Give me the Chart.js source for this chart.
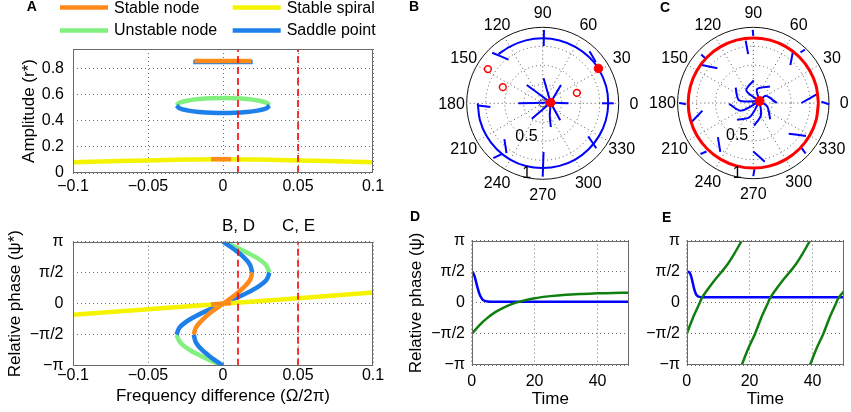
<!DOCTYPE html>
<html><head><meta charset="utf-8">
<script src="https://cdn.jsdelivr.net/npm/chart.js@4.4.1/dist/chart.umd.min.js"></script>
<style>
html,body{margin:0;padding:0;background:#fff}
body{width:851px;height:412px;position:relative;overflow:hidden}
.pane{position:absolute}
.pane canvas{display:block}
</style></head><body>
<div class="pane" style="left:0;top:0;width:400px;height:200px"><canvas id="cA1" width="400" height="200"></canvas></div>
<div class="pane" style="left:0;top:200px;width:400px;height:212px"><canvas id="cA2" width="400" height="212"></canvas></div>
<div class="pane" style="left:400px;top:0;width:240px;height:210px"><canvas id="cB" width="240" height="210"></canvas></div>
<div class="pane" style="left:640px;top:0;width:211px;height:210px"><canvas id="cC" width="211" height="210"></canvas></div>
<div class="pane" style="left:400px;top:210px;width:240px;height:202px"><canvas id="cD" width="240" height="202"></canvas></div>
<div class="pane" style="left:640px;top:210px;width:211px;height:202px"><canvas id="cE" width="211" height="202"></canvas></div>
<script>
// ================= DATA =================
const legendLabels = ['Stable node', 'Stable spiral', 'Unstable node', 'Saddle point'];
const freqTicks = [-0.1, -0.05, 0, 0.05, 0.1];
const ampTicks = [0, 0.2, 0.4, 0.6, 0.8];
const phaseTicks = [-Math.PI, -Math.PI / 2, 0, Math.PI / 2, Math.PI];
const phaseTickLabels = ['\u2212\u03c0', '\u2212\u03c0/2', '0', '\u03c0/2', '\u03c0'];
const timeTicks = [0, 20, 40];
const markerFreqs = [0.01, 0.05];
const markerLabels = ['B, D', 'C, E'];

// Panel A (top): amplitude r* vs frequency difference
const spiralAmpFreq = [-0.1, -0.075, -0.05, -0.025, 0, 0.025, 0.05, 0.075, 0.1];
const spiralAmp     = [0.082, 0.09, 0.096, 0.103, 0.106, 0.103, 0.096, 0.09, 0.082];
const nodeLowFreq   = [-0.008, 0.0053];
const nodeLowAmp    = [0.106, 0.106];
const nodeHighFreq  = [-0.019, 0, 0.019];
const nodeHighAmp   = [0.859, 0.859, 0.859];
const saddleHighFreq = [-0.0198, 0, 0.0198];
const saddleHighAmp  = [0.851, 0.851, 0.851];
const ellipseFreq    = [-0.031, -0.029, -0.024, -0.016, 0, 0.016, 0.024, 0.029, 0.031];
const unstableAmp    = [0.517, 0.538, 0.554, 0.567, 0.575, 0.567, 0.554, 0.538, 0.517];
const saddleLowAmp   = [0.517, 0.496, 0.48, 0.467, 0.459, 0.467, 0.48, 0.496, 0.517];

// Panel A (bottom): relative phase psi* vs frequency difference
const spiralPhaseFreq = [-0.1, -0.05, 0, 0.05, 0.1];
const spiralPhase     = [-0.56, -0.28, 0, 0.28, 0.57];
const nodeLowPhaseFreq = [-0.008, 0.0053];
const nodeLowPhase     = [-0.045, 0.03];
const sPhase        = [-1.571, -1.2, -0.8, -0.4, 0, 0.4, 0.8, 1.2, 1.571];
const nodeSFreq     = [-0.0195, -0.018, -0.0135, -0.0074, 0, 0.0074, 0.0135, 0.018, 0.0195];
const saddleSFreq   = [-0.031, -0.0289, -0.0222, -0.0121, 0, 0.0121, 0.0222, 0.0289, 0.031];
const upperPhase    = [1.571, 1.97, 2.37, 2.77, 3.1416];
const lowerPhase    = [-1.571, -1.97, -2.37, -2.77, -3.1416];
const saddleUpFreq  = [0.0195, 0.018, 0.0136, 0.0071, 0];
const saddleDnFreq  = [-0.0195, -0.018, -0.0136, -0.0071, 0];
const unstUpFreq    = [0.031, 0.0285, 0.0216, 0.0112, 0];
const unstDnFreq    = [-0.031, -0.0285, -0.0216, -0.0112, 0];

// Panel B: phase plane at frequency difference 0.01, points as [angle deg, radius]
const bArc = [[180,.855],[195,.855],[210,.855],[225,.855],[240,.855],[255,.855],[270,.852],[285,.852],[300,.855],[315,.855],[330,.857],[345,.86],[360,.862],[375,.864],[392,.865],[405,.862],[420,.858],[435,.856],[450,.855],[465,.857],[480,.862],[492,.87]];
const bOuter = [
  [[89,0.965],[89,0.755]],
  [[48,0.92],[38,0.885]],
  [[0,0.935],[0,0.78]],
  [[320,0.92],[324,0.74]],
  [[270,0.965],[271,0.64]],
  [[223,0.69],[234,0.81]],
  [[228,0.97],[231,0.86]],
  [[182,0.85],[184,0.69]],
  [[135,0.94],[128,0.73]]
];
const bInner = [
  [[0,0.34],[5,0.105]],
  [[45,0.34],[5,0.105]],
  [[88,0.33],[5,0.105]],
  [[131,0.32],[5,0.105]],
  [[180,0.32],[5,0.105]],
  [[235,0.25],[5,0.105]],
  [[289,0.33],[298,0.2],[5,0.105]],
  [[316,0.32],[5,0.105]]
];
const bStable = [[32,0.865],[5,0.105]];
const bUnstable = [[148,0.85],[158,0.566],[17,0.47]];
const bOrigin = [[0,0]];

// Panel C: phase plane at frequency difference 0.05
const cCycle = [[0,.86],[15,.86],[30,.86],[45,.86],[60,.86],[75,.86],[90,.86],[105,.86],[120,.86],[135,.86],[150,.86],[165,.86],[180,.86],[195,.86],[210,.86],[225,.86],[240,.86],[255,.86],[270,.86],[285,.86],[300,.86],[315,.86],[330,.86],[345,.86],[360,.86]];
const cOuter = [
  [[90.5,0.965],[90,0.886]],
  [[46,0.98],[47,0.915]],
  [[359,1.0],[1,0.9]],
  [[316,0.96],[317,0.875]],
  [[270,0.965],[271,0.875]],
  [[224,0.97],[226,0.89]],
  [[180,0.98],[181,0.89]],
  [[137,0.94],[137,0.855]]
];
const cInnerOut = [
  [[0,0.636],[8,0.85]],
  [[45.6,0.7],[52,0.846]],
  [[96,0.65],[97,0.83]],
  [[136,0.66],[144,0.86]],
  [[188.5,0.68],[197,0.85]],
  [[224,0.65],[236,0.78]],
  [[270,0.64],[281,0.79]],
  [[319,0.62],[328,0.82]]
];
const cSpirals = [
  [[0,0.31],[30,0.19],[17,0.087]],
  [[45,0.31],[75,0.19],[17,0.087]],
  [[89,0.30],[119,0.19],[17,0.087]],
  [[139,0.31],[169,0.19],[17,0.087]],
  [[182,0.32],[212,0.19],[17,0.087]],
  [[226,0.31],[256,0.19],[17,0.087]],
  [[272,0.30],[302,0.19],[17,0.087]],
  [[316,0.31],[346,0.19],[17,0.087]]
];
const cStable = [[17,0.087]];

// Panel D: time courses at frequency difference 0.01
const dBlueTime  = [0, 0.4, 0.9, 1.4, 1.9, 2.4, 2.9, 3.4, 4, 5, 6, 8, 50];
const dBluePhase = [1.57, 1.54, 1.35, 1.05, 0.74, 0.48, 0.3, 0.18, 0.11, 0.07, 0.06, 0.055, 0.05];
const dGreenTime  = [0, 2.5, 5, 7.5, 10, 12.5, 15, 20, 25, 30, 35, 40, 45, 50];
const dGreenPhase = [-1.571, -1.12, -0.76, -0.47, -0.25, -0.08, 0.05, 0.23, 0.34, 0.41, 0.45, 0.48, 0.5, 0.51];

// Panel E: time courses at frequency difference 0.05
const eBlueTime  = [0, 0.8, 1.3, 1.8, 2.3, 2.8, 3.3, 4, 5, 50];
const eBluePhase = [1.57, 1.55, 1.4, 1.1, 0.75, 0.5, 0.36, 0.3, 0.285, 0.28];
const eGreen1Time  = [0, 2, 4, 4.8, 7, 9, 11, 13, 15, 17.5];
const eGreen1Phase = [-1.571, -0.75, -0.05, 0.24, 0.75, 1.17, 1.55, 1.95, 2.45, 3.1416];
const eGreen2Time  = [17.5, 19.6, 21.7, 23.7, 25.7, 26.5, 28.7, 30.7, 32.7, 34.7, 36.7, 39.2];
const eGreen2Phase = [-3.1416, -2.3, -1.571, -0.75, -0.05, 0.24, 0.75, 1.17, 1.55, 1.95, 2.45, 3.1416];
const eGreen3Time  = [39.2, 41.3, 43.4, 45.4, 47.4, 48.2, 50];
const eGreen3Phase = [-3.1416, -2.3, -1.571, -0.75, -0.05, 0.24, 0.6];

// polar grid
const polarRings = [0.25, 0.5, 0.75];
const angleLabels = [0, 30, 60, 90, 120, 150, 180, 210, 240, 270, 300, 330];

// ================= STYLE =================
const FONT = "'Liberation Sans', Arial, Helvetica, sans-serif";
const C_NODE = '#ff8a1c', C_SPIRAL = '#f4f400', C_UNST = '#82f07e', C_SADDLE = '#1d7fea';
const legendColors = [C_NODE, C_SPIRAL, C_UNST, C_SADDLE];
const C_RED = '#ff0000', C_BLUE = '#0000ff', C_GREEN = '#107f10';

Chart.defaults.font.family = FONT;
Chart.defaults.font.size = 16;
Chart.defaults.color = '#000';
Chart.defaults.animation = false;
Chart.defaults.events = [];
Chart.defaults.plugins.legend.display = false;
Chart.defaults.plugins.tooltip.enabled = false;

const pts = (xs, ys) => xs.map((x, i) => ({x: x, y: ys[i]}));
const polarPts = arr => arr.map(([a, r]) => ({x: r * Math.cos(a * Math.PI / 180), y: r * Math.sin(a * Math.PI / 180)}));
const line = (data, color, width, tension) => ({data, showLine: true, borderColor: color, backgroundColor: color,
  borderWidth: width, pointRadius: 0, fill: false, tension: tension === undefined ? 0.35 : tension, borderCapStyle: 'butt'});
const dashed = (x, y0, y1) => ({data: [{x: x, y: y0}, {x: x, y: y1}], showLine: true, borderColor: C_RED,
  borderWidth: 1.6, borderDash: [7, 4], pointRadius: 0, tension: 0});
const ordered = list => list.map((d, i) => Object.assign(d, {order: list.length - i}));
const fmtNum = v => v === 0 ? '0' : (v < 0 ? '\u2212' : '') + String(Math.abs(v));

function xAxis(o) {
  return {type: 'linear', position: 'bottom', min: o.min, max: o.max,
    afterBuildTicks: s => { s.ticks = o.ticks.map(v => ({value: v})); },
    ticks: {callback: o.fmt, padding: o.pad, maxRotation: 0, autoSkip: false, font: {size: 16}},
    grid: {color: '#6f6f6f', lineWidth: 1, drawTicks: false},
    border: {display: false, dash: [1, 3]},
    title: {display: !!o.title, text: o.title || '', font: {size: 17}, padding: {top: 0, bottom: o.titlePad || 0}},
    afterFit: s => { s.height = o.h; }};
}
function yAxis(o) {
  return {type: 'linear', position: 'left', min: o.min, max: o.max,
    afterBuildTicks: s => { s.ticks = o.ticks.map(v => ({value: v})); },
    ticks: {callback: o.fmt, padding: o.pad, autoSkip: false, font: {size: 16}},
    grid: {color: '#6f6f6f', lineWidth: 1, drawTicks: false},
    border: {display: false, dash: [1, 3]},
    title: {display: !!o.title, text: o.title || '', font: {size: 17}, padding: {top: o.titlePad || 0, bottom: 0}},
    afterFit: s => { s.width = o.w; }};
}
const phaseFmt = (v, i) => phaseTickLabels[i];

const framePlugin = {id: 'frame', afterDatasetsDraw(chart) {
  const {ctx, chartArea: c} = chart;
  ctx.save(); ctx.strokeStyle = '#6a6a6a'; ctx.lineWidth = 1;
  ctx.strokeRect(Math.round(c.left) + 0.5, Math.round(c.top) + 0.5, Math.round(c.right - c.left) - 1, Math.round(c.bottom - c.top) - 1);
  ctx.restore();
}};
function textPlugin(fn) {
  return {id: 'txt', afterDraw(chart) {
    const ctx = chart.ctx; ctx.save();
    for (const it of fn(chart)) {
      ctx.font = it.font || ('16px ' + FONT); ctx.fillStyle = it.color || '#000';
      ctx.textAlign = it.align || 'center'; ctx.textBaseline = it.baseline || 'middle';
      ctx.fillText(it.text, it.x, it.y);
    }
    ctx.restore();
  }};
}
const letter = (t, x, y) => ({text: t, x: x, y: y, font: 'bold 14px ' + FONT});

const legendPlugin = {id: 'legendA', afterDraw(chart) {
  const ctx = chart.ctx; ctx.save();
  const cols = [60, 232.7], rows = [7.6, 30.5];
  legendLabels.forEach((lab, i) => {
    const x = cols[i % 2], y = rows[Math.floor(i / 2)];
    ctx.strokeStyle = legendColors[i]; ctx.lineWidth = 4.5; ctx.lineCap = 'butt';
    ctx.beginPath(); ctx.moveTo(x, y); ctx.lineTo(x + 48, y); ctx.stroke();
    ctx.fillStyle = '#000'; ctx.font = '16px ' + FONT; ctx.textAlign = 'left'; ctx.textBaseline = 'middle';
    ctx.fillText(lab, x + 54, y + 0.5);
  });
  ctx.restore();
}};

const polarGrid = {id: 'polarGrid', beforeDatasetsDraw(chart) {
  const {ctx} = chart; const sx = chart.scales.x, sy = chart.scales.y;
  const cx = sx.getPixelForValue(0), cy = sy.getPixelForValue(0);
  const R = sx.getPixelForValue(1) - cx, Ry = cy - sy.getPixelForValue(1);
  ctx.save();
  ctx.strokeStyle = '#555'; ctx.lineWidth = 1; ctx.setLineDash([1, 3]);
  for (const r of polarRings) { ctx.beginPath(); ctx.ellipse(cx, cy, R * r, Ry * r, 0, 0, Math.PI * 2); ctx.stroke(); }
  for (const a of angleLabels) {
    const t = a * Math.PI / 180; ctx.beginPath(); ctx.moveTo(cx, cy);
    ctx.lineTo(cx + R * Math.cos(t), cy - Ry * Math.sin(t)); ctx.stroke();
  }
  ctx.setLineDash([]); ctx.strokeStyle = '#111'; ctx.lineWidth = 1;
  ctx.beginPath(); ctx.ellipse(cx, cy, R, Ry, 0, 0, Math.PI * 2); ctx.stroke();
  ctx.restore();
}, afterDatasetsDraw(chart) {
  const {ctx} = chart; const sx = chart.scales.x, sy = chart.scales.y;
  const cx = sx.getPixelForValue(0), cy = sy.getPixelForValue(0);
  const R = sx.getPixelForValue(1) - cx, Ry = cy - sy.getPixelForValue(1);
  ctx.save(); ctx.fillStyle = '#000'; ctx.font = '16px ' + FONT; ctx.textAlign = 'center'; ctx.textBaseline = 'middle';
  for (const a of angleLabels) {
    const t = a * Math.PI / 180;
    ctx.fillText(String(a), cx + 1.2 * R * Math.cos(t), cy - 1.2 * Ry * Math.sin(t) + 1);
  }
  const rl = [{v: '0.5', r: 0.47, a: 243}, {v: '1', r: 0.94, a: 257}];
  for (const o of rl) {
    const t = o.a * Math.PI / 180;
    ctx.fillText(o.v, cx + o.r * R * Math.cos(t), cy - o.r * Ry * Math.sin(t) + 1);
  }
  ctx.restore();
}};

// ================= PANEL A (top) =================
new Chart(document.getElementById('cA1'), {
  type: 'scatter',
  data: {datasets: ordered([
    line(pts(spiralAmpFreq, spiralAmp), C_SPIRAL, 4.5),
    line(pts(nodeLowFreq, nodeLowAmp), C_NODE, 4.5, 0),
    line(pts(ellipseFreq, unstableAmp), C_UNST, 4.5),
    line(pts(ellipseFreq, saddleLowAmp), C_SADDLE, 4.5),
    line(pts(saddleHighFreq, saddleHighAmp), C_SADDLE, 4.5, 0),
    line(pts(nodeHighFreq, nodeHighAmp), C_NODE, 4.5, 0),
    dashed(markerFreqs[0], 0, 0.95),
    dashed(markerFreqs[1], 0, 0.95)
  ])},
  options: {responsive: false,
    layout: {padding: {left: 0, right: 27, top: 49, bottom: 0}},
    scales: {
      x: xAxis({min: -0.1, max: 0.1, ticks: freqTicks, fmt: v => fmtNum(v), pad: 4, h: 27}),
      y: yAxis({min: 0, max: 0.95, ticks: ampTicks, fmt: v => fmtNum(v), pad: 9, w: 73, title: 'Amplitude (r*)', titlePad: 19})
    }},
  plugins: [framePlugin, legendPlugin, textPlugin(() => [letter('A', 31.7, 7.6)])]
});

// ================= PANEL A (bottom) =================
new Chart(document.getElementById('cA2'), {
  type: 'scatter',
  data: {datasets: ordered([
    line(pts(unstUpFreq, upperPhase), C_UNST, 4.5),
    line(pts(unstDnFreq, lowerPhase), C_UNST, 4.5),
    line(pts(saddleUpFreq, upperPhase), C_SADDLE, 4.5),
    line(pts(saddleDnFreq, lowerPhase), C_SADDLE, 4.5),
    line(pts(saddleSFreq, sPhase), C_SADDLE, 4.5),
    line(pts(nodeSFreq, sPhase), C_NODE, 4.5),
    line(pts(spiralPhaseFreq, spiralPhase), C_SPIRAL, 4.5, 0),
    line(pts(nodeLowPhaseFreq, nodeLowPhase), C_NODE, 4.5, 0),
    dashed(markerFreqs[0], -Math.PI, Math.PI),
    dashed(markerFreqs[1], -Math.PI, Math.PI)
  ])},
  options: {responsive: false,
    layout: {padding: {left: 0, right: 27, top: 41.7, bottom: 0}},
    scales: {
      x: xAxis({min: -0.1, max: 0.1, ticks: freqTicks, fmt: v => fmtNum(v), pad: 0, h: 46.3,
        title: 'Frequency difference (\u03a9/2\u03c0)', titlePad: 5}),
      y: yAxis({min: -Math.PI, max: Math.PI, ticks: phaseTicks, fmt: phaseFmt, pad: 9.5, w: 73,
        title: 'Relative phase (\u03c8*)', titlePad: 5})
    }},
  plugins: [framePlugin, textPlugin(ch => markerLabels.map((t, i) => ({text: t,
    x: ch.scales.x.getPixelForValue(markerFreqs[i]) + 0.5, y: ch.chartArea.top - 15, font: '17px ' + FONT})))]
});

// ================= PANEL B =================
const polarOpts = pad => ({responsive: false, layout: {padding: pad},
  scales: {x: {type: 'linear', min: -1, max: 1, display: false}, y: {type: 'linear', min: -1, max: 1, display: false}}});
const marker = (arr, r, fill, border, bw) => ({data: polarPts(arr), showLine: false, pointRadius: r,
  pointBackgroundColor: fill, pointBorderColor: border, pointBorderWidth: bw, clip: false});
const traj = (arr, color, w) => Object.assign(line(polarPts(arr), color, w, 0.3), {clip: false});

new Chart(document.getElementById('cB'), {
  type: 'scatter',
  data: {datasets: ordered([
    traj(bArc, C_BLUE, 2),
    ...bOuter.map(t => traj(t, C_BLUE, 2)),
    ...bInner.map(t => traj(t, C_BLUE, 2)),
    marker(bOrigin, 3.5, 'rgba(0,0,0,0)', '#555', 1),
    marker(bUnstable, 3.4, 'rgba(0,0,0,0)', C_RED, 1.5),
    marker(bStable, 4.3, C_RED, C_RED, 1)
  ])},
  options: polarOpts({left: 66.7, right: 21.3, top: 27.3, bottom: 30.7}),
  plugins: [polarGrid, textPlugin(() => [letter('B', 14, 7.6)])]
});

// ================= PANEL C =================
new Chart(document.getElementById('cC'), {
  type: 'scatter',
  data: {datasets: ordered([
    ...cOuter.map(t => traj(t, C_BLUE, 2)),
    ...cInnerOut.map(t => traj(t, C_BLUE, 2)),
    ...cSpirals.map(t => traj(t, C_BLUE, 2)),
    traj(cCycle, C_RED, 3),
    marker(cStable, 4.5, C_RED, C_RED, 1)
  ])},
  options: polarOpts({left: 37.6, right: 22, top: 27.3, bottom: 31.3}),
  plugins: [polarGrid, textPlugin(() => [letter('C', 25, 8)])]
});

// ================= PANEL D =================
new Chart(document.getElementById('cD'), {
  type: 'scatter',
  data: {datasets: ordered([
    line(pts(dBlueTime, dBluePhase), C_BLUE, 2.5, 0.3),
    line(pts(dGreenTime, dGreenPhase), C_GREEN, 2.5, 0.3)
  ])},
  options: {responsive: false,
    layout: {padding: {left: 0, right: 11, top: 30.7, bottom: 0}},
    scales: {
      x: xAxis({min: 0, max: 50, ticks: timeTicks, fmt: v => fmtNum(v), pad: 7, h: 47, title: 'Time', titlePad: 2.5}),
      y: yAxis({min: -Math.PI, max: Math.PI, ticks: phaseTicks, fmt: phaseFmt, pad: 6.7, w: 71.7,
        title: 'Relative phase (\u03c8)', titlePad: 6})
    }},
  plugins: [framePlugin, textPlugin(() => [letter('D', 15, 7)])]
});

// ================= PANEL E =================
new Chart(document.getElementById('cE'), {
  type: 'scatter',
  data: {datasets: ordered([
    line(pts(eBlueTime, eBluePhase), C_BLUE, 2.5, 0.3),
    line(pts(eGreen1Time, eGreen1Phase), C_GREEN, 2.5, 0.3),
    line(pts(eGreen2Time, eGreen2Phase), C_GREEN, 2.5, 0.3),
    line(pts(eGreen3Time, eGreen3Phase), C_GREEN, 2.5, 0.3)
  ])},
  options: {responsive: false,
    layout: {padding: {left: 0, right: 7, top: 30.7, bottom: 0}},
    scales: {
      x: xAxis({min: 0, max: 50, ticks: timeTicks, fmt: v => fmtNum(v), pad: 7, h: 47, title: 'Time', titlePad: 2.5}),
      y: yAxis({min: -Math.PI, max: Math.PI, ticks: phaseTicks, fmt: phaseFmt, pad: 6.7, w: 46.7})
    }},
  plugins: [framePlugin, textPlugin(() => [letter('E', 26.7, 8)])]
});
</script>
</body></html>
